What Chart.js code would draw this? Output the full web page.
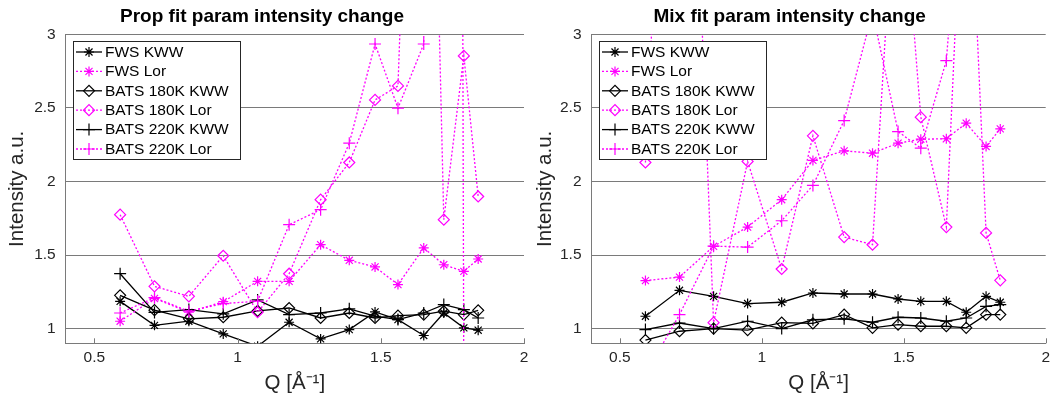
<!DOCTYPE html>
<html>
<head>
<meta charset="utf-8">
<script src="https://cdn.jsdelivr.net/npm/chart.js@4.4.0/dist/chart.umd.min.js"></script>
<style>
  html, body { margin: 0; padding: 0; background: #fff; }
  #wrap { position: relative; width: 1055px; height: 403px; overflow: hidden; }
  canvas { position: absolute; top: 0; }
</style>
</head>
<body>
<div id="wrap">
  <canvas id="prop" width="535" height="403" style="left:0px"></canvas>
  <canvas id="mix" width="525" height="403" style="left:530px"></canvas>
</div>
<script>
// Q values (Å^-1), shared by all series
const qValues = [0.59, 0.71, 0.83, 0.95, 1.07, 1.18, 1.29, 1.39, 1.48, 1.56, 1.65, 1.72, 1.79, 1.84];

const seriesLabels = ["FWS KWW", "FWS Lor", "BATS 180K KWW", "BATS 180K Lor", "BATS 220K KWW", "BATS 220K Lor"];

// left panel: "Prop fit"
const propFwsKww = [1.185, 1.022, 1.050, 0.964, 0.88, 1.043, 0.930, 0.993, 1.113, 1.061, 0.953, 1.106, 1.005, 0.989];
const propFwsLor = [1.050, 1.205, 1.111, 1.183, 1.321, 1.321, 1.570, 1.464, 1.419, 1.299, 1.548, 1.434, 1.389, 1.473];
const prop180Kww = [1.226, 1.125, 1.066, 1.077, 1.120, 1.140, 1.072, 1.106, 1.072, 1.088, 1.095, 1.118, 1.095, 1.124];
const prop180Lor = [1.774, 1.287, 1.219, 1.495, 1.111, 1.373, 1.876, 2.129, 2.554, 2.649, 7.5, 1.740, 2.853, 1.898];
const prop220Kww = [1.373, 1.110, 1.129, 1.100, 1.195, 1.095, 1.106, 1.134, 1.084, 1.061, 1.106, 1.163, 1.129, 1.072];
const prop220Lor = [1.106, 1.210, 1.118, 1.170, 1.186, 1.706, 1.808, 2.260, 2.934, 2.498, 2.934, 50, 0.5, 0.6];

// right panel: "Mix fit"
const mixFwsKww = [1.084, 1.260, 1.219, 1.170, 1.179, 1.242, 1.235, 1.235, 1.201, 1.185, 1.185, 1.111, 1.219, 1.179];
const mixFwsLor = [1.326, 1.350, 1.559, 1.690, 1.876, 2.143, 2.208, 2.192, 2.260, 2.287, 2.290, 2.396, 2.238, 2.357];
const mix180Kww = [0.922, 0.982, 1.000, 0.990, 1.040, 1.035, 1.095, 1.005, 1.027, 1.016, 1.016, 1.005, 1.095, 1.095];
const mix180Lor = [2.129, 7.0, 1.040, 2.136, 1.405, 2.310, 1.622, 1.570, 4.4, 2.437, 1.690, 4.7, 1.650, 1.328];
const mix220Kww = [0.993, 1.038, 1.000, 1.050, 1.000, 1.060, 1.066, 1.043, 1.077, 1.072, 1.050, 1.072, 1.151, 1.163];
const mix220Lor = [0.69, 1.095, 1.560, 1.554, 1.733, 1.973, 2.414, 3.15, 2.339, 2.226, 2.821, 4.5, null, null];

const xTickVals = [0.5, 1, 1.5, 2];
const yTickVals = [1, 1.5, 2, 2.5, 3];

const FONT = "'Liberation Sans', Arial, Helvetica, sans-serif";
const MAGENTA = "#ff00ff";
const GRID = "#7a7a7a";
const TXT = "#262626";

// marker + line style per series (same order as seriesLabels)
const styles = [
  { color: "#000", dash: [],     point: "star",    r: 5 },
  { color: MAGENTA, dash: [2, 2], point: "star",    r: 5 },
  { color: "#000", dash: [],     point: "rectRot", r: 5.5 },
  { color: MAGENTA, dash: [2, 2], point: "rectRot", r: 5.5 },
  { color: "#000", dash: [],     point: "cross",   r: 6 },
  { color: MAGENTA, dash: [2, 2], point: "cross",   r: 6 }
];

function toDatasets(arrays) {
  return arrays.map((arr, i) => ({
    label: seriesLabels[i],
    data: qValues.map((q, k) => ({ x: q, y: arr[k] })),
    borderColor: styles[i].color,
    borderWidth: 1.3,
    borderDash: styles[i].dash,
    pointStyle: styles[i].point,
    pointRadius: styles[i].r,
    pointBorderWidth: 1.2,
    pointBorderColor: styles[i].color,
    pointBackgroundColor: "rgba(0,0,0,0)",
    tension: 0,
    order: 10 - i   // later series drawn on top, like the original
  }));
}

// boxed legend in the upper-left of the plot area, with line + marker samples
const boxLegend = {
  id: "boxLegend",
  afterDatasetsDraw(chart) {
    const { ctx, chartArea } = chart;
    const x0 = Math.round(chartArea.left + 7), y0 = Math.round(chartArea.top + 7), w = 167, h = 118;
    ctx.save();
    ctx.fillStyle = "#fff";
    ctx.fillRect(x0, y0, w, h);
    ctx.strokeStyle = TXT;
    ctx.lineWidth = 1;
    ctx.strokeRect(x0 + 0.5, y0 + 0.5, w, h);
    chart.data.datasets.forEach((ds, i) => {
      const cy = y0 + 11 + i * 19.4;
      ctx.strokeStyle = ds.borderColor;
      ctx.lineWidth = ds.borderWidth;
      ctx.setLineDash(ds.borderDash);
      ctx.beginPath();
      ctx.moveTo(x0 + 3, cy);
      ctx.lineTo(x0 + 29, cy);
      ctx.stroke();
      ctx.setLineDash([]);
      ctx.lineWidth = ds.pointBorderWidth;
      ctx.fillStyle = "rgba(0,0,0,0)";
      Chart.helpers.drawPoint(ctx, { pointStyle: ds.pointStyle, radius: ds.pointRadius, borderWidth: ds.pointBorderWidth, rotation: 0 }, x0 + 16, cy);
      ctx.fillStyle = "#000";
      ctx.font = "15.5px " + FONT;
      ctx.textBaseline = "middle";
      ctx.fillText(ds.label, x0 + 32, cy + 0.5);
    });
    ctx.restore();
  }
};

// short inward tick marks on the bottom axis
const inwardTicks = {
  id: "inwardTicks",
  afterDraw(chart) {
    const { ctx, chartArea, scales } = chart;
    ctx.save();
    ctx.strokeStyle = GRID;
    ctx.lineWidth = 1;
    xTickVals.forEach(v => {
      const px = Math.round(scales.x.getPixelForValue(v)) + 0.5;
      ctx.beginPath();
      ctx.moveTo(px, chartArea.bottom);
      ctx.lineTo(px, chartArea.bottom - 5);
      ctx.stroke();
    });
    ctx.restore();
  }
};

function makePanel({ el, title, arrays, areaLeft, padRight, yTitlePad }) {
  new Chart(document.getElementById(el), {
    type: "line",
    data: { datasets: toDatasets(arrays) },
    options: {
      responsive: false,
      animation: false,
      layout: { padding: { left: 0, right: padRight, top: 0, bottom: 0 } },
      plugins: {
        legend: { display: false },
        tooltip: { enabled: false },
        title: {
          display: true, text: title, color: "#000",
          font: { family: FONT, size: 19, weight: "bold", lineHeight: 1.2 },
          padding: { top: 5.6, bottom: 5.9 }
        }
      },
      scales: {
        x: {
          type: "linear", min: 0.4, max: 2,
          afterBuildTicks: s => { s.ticks = xTickVals.map(v => ({ value: v })); },
          afterFit: s => { s.height = 59.7; },
          ticks: { color: TXT, font: { family: FONT, size: 15.5 }, padding: 5, maxRotation: 0, callback: v => String(v) },
          grid: { display: true, drawOnChartArea: false, drawTicks: false },
          border: { display: true, color: GRID, width: 1 },
          title: { display: true, text: "Q [Å⁻¹]", color: TXT, font: { family: FONT, size: 20.5 }, padding: { top: 0, bottom: 7.7 } }
        },
        y: {
          type: "linear", min: 0.9, max: 3,
          afterBuildTicks: s => { s.ticks = yTickVals.map(v => ({ value: v })); },
          afterFit: s => { s.width = areaLeft; },
          ticks: { color: TXT, font: { family: FONT, size: 15.5 }, padding: 10, callback: v => String(v) },
          grid: { color: GRID, lineWidth: 1, drawTicks: false },
          border: { display: true, color: GRID, width: 1 },
          title: { display: true, text: "Intensity a.u.", color: TXT, font: { family: FONT, size: 20.5 }, padding: { top: yTitlePad, bottom: 0 } }
        }
      }
    },
    plugins: [boxLegend, inwardTicks]
  });
}

makePanel({
  el: "prop", title: "Prop fit param intensity change",
  arrays: [propFwsKww, propFwsLor, prop180Kww, prop180Lor, prop220Kww, prop220Lor],
  areaLeft: 65.7, padRight: 11, yTitlePad: 4.7
});

makePanel({
  el: "mix", title: "Mix fit param intensity change",
  arrays: [mixFwsKww, mixFwsLor, mix180Kww, mix180Lor, mix220Kww, mix220Lor],
  areaLeft: 61.5, padRight: 5.7, yTitlePad: 2.7
});
</script>
</body>
</html>
